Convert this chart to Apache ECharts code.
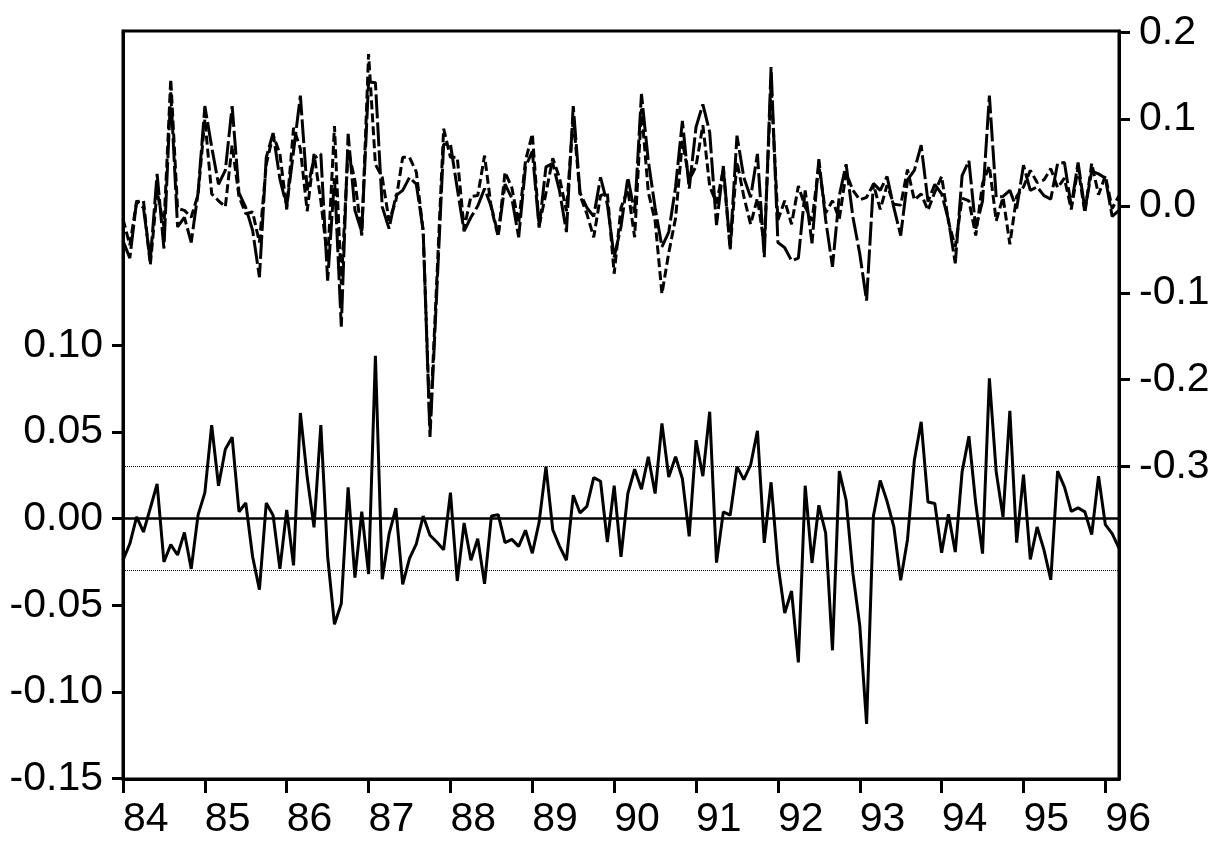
<!DOCTYPE html>
<html>
<head>
<meta charset="utf-8">
<script src="https://cdn.jsdelivr.net/npm/echarts@6/dist/echarts.min.js"></script>
<style>
  html, body { margin: 0; padding: 0; background: #fff; }
  #chart { width: 1223px; height: 844px; }
</style>
</head>
<body>
<div id="chart"></div>
<script>
// monthly sample 1984M01 - 1996M03
var yearLabels = ['84','85','86','87','88','89','90','91','92','93','94','95','96'];
var lastMonths = 3;

var resid = [
  -0.024,-0.0145,0.001,-0.0077,0.006,0.020,-0.025,-0.015,-0.021,-0.008,-0.029,0.002,
  0.015,0.054,0.019,0.040,0.047,0.004,0.009,-0.022,-0.041,0.009,0.002,-0.029,
  0.005,-0.027,0.061,0.024,-0.005,0.054,-0.022,-0.061,-0.049,0.018,-0.034,0.004,
  -0.032,0.094,-0.035,-0.009,0.006,-0.038,-0.023,-0.0145,0.0015,-0.0096,-0.0135,-0.018,
  0.015,-0.036,-0.0025,-0.024,-0.0116,-0.0376,0.0015,0.0023,-0.0139,-0.012,-0.016,-0.0067,
  -0.020,-0.002,0.030,-0.0064,-0.016,-0.024,0.0135,0.0033,0.0071,0.0237,0.0216,-0.0135,
  0.019,-0.022,0.0145,0.0285,0.017,0.0357,0.0145,0.055,0.024,0.0357,0.023,-0.0102,
  0.0453,0.0245,0.0617,-0.0254,0.0039,0.002,0.030,0.0225,0.031,0.0507,-0.014,0.021,
  -0.026,-0.0545,-0.0418,-0.083,0.019,-0.0256,0.0077,-0.0083,-0.076,0.0274,0.0106,-0.0318,
  -0.0617,-0.1185,0.0015,0.022,0.010,-0.0048,-0.0356,-0.012,0.0337,0.0559,0.0096,0.0087,
  -0.0197,0.0025,-0.0193,0.027,0.0476,0.0087,-0.0202,0.081,0.027,0.001,0.0622,-0.0139,
  0.0254,-0.0235,-0.0048,-0.018,-0.0353,0.0274,0.0183,0.0042,0.0062,0.0039,-0.0092,0.0245,
  -0.0035,-0.0087,-0.017
];

var actual = [
  -0.040,-0.060,0.006,-0.002,-0.063,0.037,-0.049,0.131,-0.024,-0.013,-0.042,0.015,
  0.115,0.068,0.025,0.041,0.115,0.015,-0.002,-0.028,-0.082,0.056,0.084,0.031,
  0.000,0.063,0.127,0.018,0.055,0.060,-0.086,0.032,-0.139,0.083,-0.005,-0.030,
  0.143,0.142,-0.001,-0.026,0.012,0.018,0.033,0.025,-0.028,-0.266,-0.098,0.071,
  0.071,0.020,-0.029,-0.013,0.000,0.020,-0.001,-0.033,0.025,0.009,-0.036,0.045,
  0.063,-0.025,0.045,0.049,0.017,-0.030,0.115,0.015,-0.002,-0.012,0.033,0.002,
  -0.059,-0.024,0.033,-0.008,0.129,0.052,-0.002,-0.047,-0.030,0.022,0.098,0.020,
  0.091,0.117,0.085,-0.022,0.046,-0.048,0.081,0.033,0.010,0.060,-0.059,0.160,
  -0.042,-0.048,-0.063,-0.060,0.018,-0.043,0.054,-0.016,-0.070,0.012,0.048,-0.013,
  -0.055,-0.109,0.026,0.018,0.034,-0.002,-0.034,0.030,0.041,0.070,0.005,0.025,
  0.014,-0.016,-0.066,0.035,0.052,-0.026,0.006,0.127,0.010,0.011,0.018,-0.003,
  0.047,0.018,0.022,0.012,0.008,0.049,0.050,0.000,0.050,-0.004,0.040,0.037,
  0.032,-0.012,-0.005
];

var fitted = [
  -0.015,-0.045,0.005,0.006,-0.068,0.017,-0.024,0.146,-0.003,-0.005,-0.013,0.013,
  0.100,0.014,0.006,-0.001,0.070,0.011,-0.009,-0.007,-0.042,0.048,0.082,0.060,
  -0.004,0.090,0.066,-0.006,0.060,0.006,-0.063,0.092,-0.090,0.065,0.029,-0.034,
  0.175,0.048,0.033,-0.017,0.006,0.056,0.056,0.039,-0.029,-0.256,-0.085,0.089,
  0.056,0.056,-0.026,0.011,0.012,0.058,-0.003,-0.035,0.039,0.021,-0.020,0.052,
  0.083,-0.023,0.015,0.055,0.032,-0.006,0.102,0.012,-0.009,-0.036,0.012,0.015,
  -0.078,-0.002,0.019,-0.036,0.112,0.016,-0.017,-0.101,-0.054,-0.014,0.075,0.030,
  0.046,0.093,0.023,0.003,0.042,-0.050,0.051,0.011,-0.021,0.009,-0.045,0.139,
  -0.016,0.006,-0.021,0.023,-0.001,-0.017,0.047,-0.008,0.006,-0.015,0.038,0.018,
  0.007,0.010,0.025,-0.004,0.024,0.002,0.001,0.042,0.007,0.014,-0.005,0.016,
  0.034,-0.018,-0.047,0.009,0.006,-0.034,0.026,0.046,-0.017,0.010,-0.044,0.011,
  0.022,0.041,0.027,0.030,0.043,0.021,0.032,-0.004,0.044,-0.008,0.049,0.013,
  0.035,-0.003,0.012
];

var residTicks = [-0.15, -0.10, -0.05, 0.00, 0.05, 0.10];
var levelTicks = [-0.3, -0.2, -0.1, 0.0, 0.1, 0.2];
var seBand = 0.0312;

// category per month, label only on January
var months = [];
for (var y = 0; y < yearLabels.length; y++) {
  var n = (y == yearLabels.length - 1) ? lastMonths : 12;
  for (var m = 0; m < n; m++) months.push(m == 0 ? yearLabels[y] : '');
}
var isJan = function (i) { return i % 12 === 0; };

var font = 'Liberation Sans, Arial, sans-serif';
var chart = echarts.init(document.getElementById('chart'), null, {renderer: 'canvas'});

chart.setOption({
  animation: false,
  backgroundColor: '#fff',
  grid: {left: 123, right: 104, top: 31, bottom: 65, show: true, borderColor: '#000', borderWidth: 3, backgroundColor: 'transparent'},
  xAxis: {
    type: 'category',
    data: months,
    boundaryGap: false,
    axisLine: {show: true, onZero: false, lineStyle: {color: '#000', width: 3}},
    axisTick: {show: true, length: 14, interval: isJan, lineStyle: {color: '#000', width: 3}},
    axisLabel: {show: true, interval: isJan, align: 'left', margin: 20,
      color: '#000', fontSize: 41, fontFamily: font},
    splitLine: {show: false}
  },
  yAxis: [{
    type: 'value',
    position: 'left',
    min: -0.1503,
    max: 0.2815,
    axisLine: {show: true, lineStyle: {color: '#000', width: 3}},
    axisTick: {show: true, length: 11, lineStyle: {color: '#000', width: 3}, customValues: residTicks},
    axisLabel: {show: true, customValues: residTicks, margin: 20, color: '#000', fontSize: 41, fontFamily: font,
      formatter: function (v) { return v.toFixed(2); }},
    splitLine: {show: false}
  }, {
    type: 'value',
    position: 'right',
    min: -0.6598,
    max: 0.2015,
    axisLine: {show: true, lineStyle: {color: '#000', width: 3}},
    axisTick: {show: true, length: 11, lineStyle: {color: '#000', width: 3}, customValues: levelTicks},
    axisLabel: {show: true, customValues: levelTicks, margin: 20, color: '#000', fontSize: 41, fontFamily: font,
      formatter: function (v) { return v.toFixed(1); }},
    splitLine: {show: false}
  }],
  series: [{
    name: 'Residual',
    type: 'line',
    yAxisIndex: 0,
    data: resid,
    showSymbol: false,
    lineStyle: {color: '#000', width: 3},
    markLine: {
      silent: true,
      symbol: 'none',
      label: {show: false},
      data: [
        {yAxis: 0, lineStyle: {color: '#000', width: 2.5, type: 'solid'}},
        {yAxis: seBand, lineStyle: {color: '#000', width: 1, type: 'dotted'}},
        {yAxis: -seBand, lineStyle: {color: '#000', width: 1, type: 'dotted'}}
      ]
    }
  }, {
    name: 'Actual',
    type: 'line',
    yAxisIndex: 1,
    data: actual,
    showSymbol: false,
    lineStyle: {color: '#000', width: 3, type: [24, 4]}
  }, {
    name: 'Fitted',
    type: 'line',
    yAxisIndex: 1,
    data: fitted,
    showSymbol: false,
    lineStyle: {color: '#000', width: 3, type: [9, 4]}
  }]
});
</script>
</body>
</html>
